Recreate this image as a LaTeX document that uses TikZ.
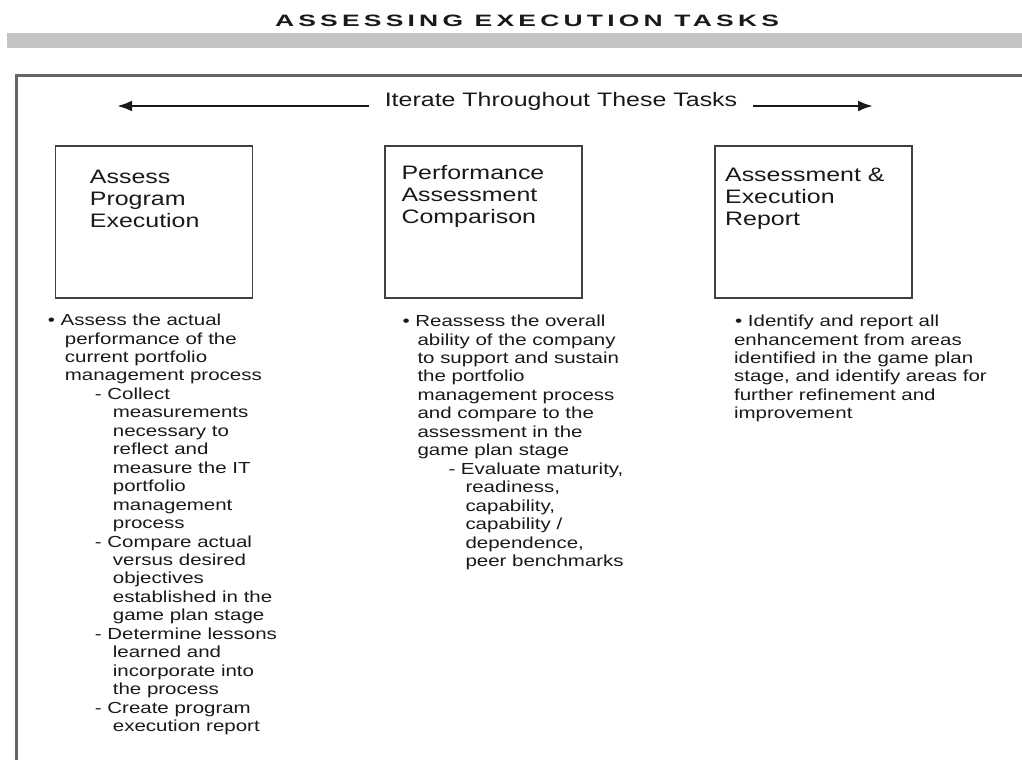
\documentclass[tikz,border=0pt]{standalone}
\usepackage{graphicx}
\usepackage{fontspec}
\setmainfont{Liberation Sans}[FakeStretch=1.28]
\newfontfamily\headfont{Liberation Sans}[LetterSpace=16]
\usetikzlibrary{positioning,arrows.meta}
\begin{document}
\begin{tikzpicture}[x=1pt,y=-1pt]
    \tikzstyle{every node}=[inner sep=0pt, text=black!90]
    \tikzset{
        task/.style={draw=black!75, line width=1.6pt, minimum width=197pt, minimum height=152pt},
        tasktitle/.style={align=left, font=\fontsize{19.5}{22}\selectfont},
        notes/.style={align=left, font=\fontsize{16}{18.45}\selectfont},
        arr/.style={-{Latex[length=15pt,width=11pt]}, line width=2.6pt, black!90}
        }
    \useasboundingbox (0,0) rectangle (1022,760);

    %heading
    \node (head) at (527,20.5) {\resizebox{504pt}{11.5pt}{\headfont\bfseries ASSESSING EXECUTION TASKS}};
    \fill[black!23] (7,33) rectangle (1022,48);
    \draw[black!60, line width=3pt] (1022,75) -- (16,75) -- (16,760);

    %iterate
    \node (iter) [anchor=base, inner xsep=16pt, font=\fontsize{19.5}{22}\selectfont] at (561,106) {Iterate Throughout These Tasks};
    \coordinate (lefttip) at (117,106);
    \coordinate (righttip) at (873,106);
    \draw[arr] (iter.base west) -- (lefttip);
    \draw[arr] (iter.base east) -- (righttip);

    %tasks
    \node (assess) [task] at (154,222) {};
    \node (compare) [task, right=131pt of assess] {};
    \node (report) [task, right=131pt of compare] {};

    \node (assesstitle) [tasktitle, below right=25pt and 35pt of assess.north west] {Assess\\Program\\Execution};
    \node (comparetitle) [tasktitle, below right=20pt and 17pt of compare.north west] {Performance\\Assessment\\Comparison};
    \node (reporttitle) [tasktitle, below right=23pt and 11pt of report.north west] {Assessment \&\\Execution\\Report};

    %notes
    \node (assessnotes) [notes, below right=15pt and -7pt of assess.south west] {%
        \textbullet\ Assess the actual\\
        \hspace*{17pt}performance of the\\
        \hspace*{17pt}current portfolio\\
        \hspace*{17pt}management process\\
        \hspace*{47pt}- Collect\\
        \hspace*{65pt}measurements\\
        \hspace*{65pt}necessary to\\
        \hspace*{65pt}reflect and\\
        \hspace*{65pt}measure the IT\\
        \hspace*{65pt}portfolio\\
        \hspace*{65pt}management\\
        \hspace*{65pt}process\\
        \hspace*{47pt}- Compare actual\\
        \hspace*{65pt}versus desired\\
        \hspace*{65pt}objectives\\
        \hspace*{65pt}established in the\\
        \hspace*{65pt}game plan stage\\
        \hspace*{47pt}- Determine lessons\\
        \hspace*{65pt}learned and\\
        \hspace*{65pt}incorporate into\\
        \hspace*{65pt}the process\\
        \hspace*{47pt}- Create program\\
        \hspace*{65pt}execution report};
    \node (comparenotes) [notes, below right=16pt and 18pt of compare.south west] {%
        \textbullet\ Reassess the overall\\
        \hspace*{15pt}ability of the company\\
        \hspace*{15pt}to support and sustain\\
        \hspace*{15pt}the portfolio\\
        \hspace*{15pt}management process\\
        \hspace*{15pt}and compare to the\\
        \hspace*{15pt}assessment in the\\
        \hspace*{15pt}game plan stage\\
        \hspace*{46pt}- Evaluate maturity,\\
        \hspace*{63pt}readiness,\\
        \hspace*{63pt}capability,\\
        \hspace*{63pt}capability /\\
        \hspace*{63pt}dependence,\\
        \hspace*{63pt}peer benchmarks};
    \node (reportnotes) [notes, below right=16pt and 20pt of report.south west] {%
        \hspace*{1pt}\textbullet\ Identify and report all\\
        enhancement from areas\\
        identified in the game plan\\
        stage, and identify areas for\\
        further refinement and\\
        improvement};
\end{tikzpicture}
\end{document}
